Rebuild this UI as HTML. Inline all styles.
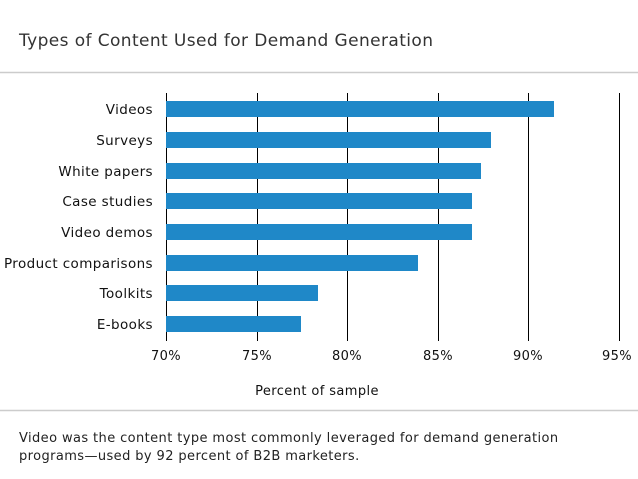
<!DOCTYPE html>
<html><head><style>body{margin:0;background:#fff}svg{display:block}text{font-family:"DejaVu Sans","Liberation Sans",sans-serif;letter-spacing:0.4px}</style></head><body>
<svg width="638" height="479" viewBox="0 0 638 479">
<text x="19" y="46" font-size="17" fill="#333" letter-spacing="0.35">Types of Content Used for Demand Generation</text>
<line x1="0" y1="72.5" x2="638" y2="72.5" stroke="#ccc" stroke-width="1.5"/>
<line x1="0" y1="410.5" x2="638" y2="410.5" stroke="#ccc" stroke-width="1.5"/>
<g stroke="#000" stroke-width="1">
<line x1="166.5" y1="93" x2="166.5" y2="341"/>
<line x1="257.5" y1="93" x2="257.5" y2="341"/>
<line x1="347.5" y1="93" x2="347.5" y2="341"/>
<line x1="438.5" y1="93" x2="438.5" y2="341"/>
<line x1="528.5" y1="93" x2="528.5" y2="341"/>
<line x1="619.5" y1="93" x2="619.5" y2="341"/>
</g>
<g fill="#1f88c8">
<rect x="166" y="101" width="388" height="16"/>
<rect x="166" y="132" width="325" height="16"/>
<rect x="166" y="163" width="315" height="16"/>
<rect x="166" y="193" width="306" height="16"/>
<rect x="166" y="224" width="306" height="16"/>
<rect x="166" y="255" width="252" height="16"/>
<rect x="166" y="285" width="152" height="16"/>
<rect x="166" y="316" width="135" height="16"/>
</g>
<g font-size="13.5" fill="#111" text-anchor="end">
<text x="153" y="114">Videos</text>
<text x="153" y="145">Surveys</text>
<text x="153" y="176">White papers</text>
<text x="153" y="206">Case studies</text>
<text x="153" y="237">Video demos</text>
<text x="153" y="268">Product comparisons</text>
<text x="153" y="298">Toolkits</text>
<text x="153" y="329">E-books</text>
</g>
<g font-size="13" fill="#111" text-anchor="middle">
<text x="166" y="360">70%</text>
<text x="257" y="360">75%</text>
<text x="347" y="360">80%</text>
<text x="438" y="360">85%</text>
<text x="528" y="360">90%</text>
<text x="617" y="360">95%</text>
<text x="317" y="395">Percent of sample</text>
</g>
<g font-size="13" fill="#222" letter-spacing="0.34">
<text x="19" y="442">Video was the content type most commonly leveraged for demand generation</text>
<text x="19" y="460">programs—used by 92 percent of B2B marketers.</text>
</g>
</svg>
</body></html>
